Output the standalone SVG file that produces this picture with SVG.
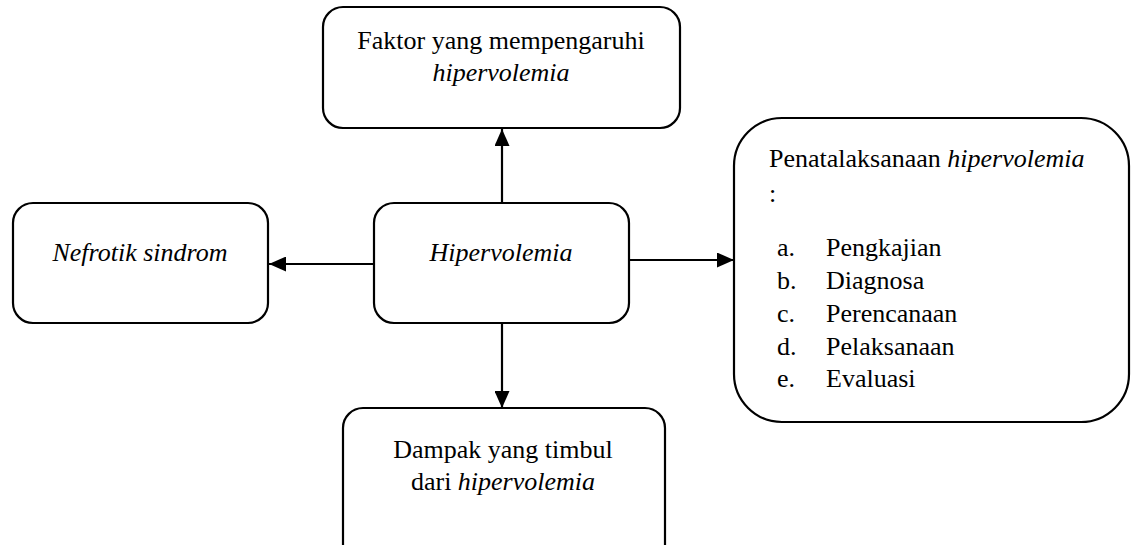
<svg xmlns="http://www.w3.org/2000/svg" width="1133" height="545" viewBox="0 0 1133 545">
<style>
.box{fill:#fff;stroke:#000;stroke-width:2.2}
.t{font-size:26px;fill:#000}
.i{font-style:italic}
.c{stroke:#000;stroke-width:2.2;fill:none}
</style>
<defs>
<marker id="ah" markerUnits="userSpaceOnUse" markerWidth="17" markerHeight="15" refX="17" refY="7.5" orient="auto">
<path d="M0,0 L17,7.5 L0,15 z" fill="#000"/>
</marker>
</defs>
<rect width="1133" height="545" fill="#fff"/>
<g id="connectors">
<line class="c" x1="502" y1="203" x2="502" y2="129" marker-end="url(#ah)"/>
<line class="c" x1="374" y1="264" x2="269" y2="264" marker-end="url(#ah)"/>
<line class="c" x1="629" y1="260" x2="734" y2="260" marker-end="url(#ah)"/>
<line class="c" x1="502" y1="323" x2="502" y2="408" marker-end="url(#ah)"/>
</g>
<g font-family="Liberation Serif, Tinos, Times New Roman, serif">
<g id="node-faktor">
<rect class="box" x="323" y="7" width="357" height="121" rx="20"/>
<text class="t" x="501" y="49" text-anchor="middle">Faktor yang mempengaruhi</text>
<text class="t i" x="501" y="81" text-anchor="middle">hipervolemia</text>
</g>
<g id="node-nefrotik">
<rect class="box" x="13" y="203" width="255" height="120" rx="20"/>
<text class="t i" x="140" y="261" text-anchor="middle">Nefrotik sindrom</text>
</g>
<g id="node-hipervolemia">
<rect class="box" x="374" y="203" width="255" height="120" rx="20"/>
<text class="t i" x="501" y="261" text-anchor="middle">Hipervolemia</text>
</g>
<g id="node-penatalaksanaan">
<rect class="box" x="734" y="118" width="395" height="304" rx="48"/>
<text class="t" x="769" y="167">Penatalaksanaan <tspan class="i">hipervolemia</tspan></text>
<text class="t" x="769" y="202">:</text>
<text class="t" x="777" y="256">a.</text><text class="t" x="826" y="256">Pengkajian</text>
<text class="t" x="777" y="289">b.</text><text class="t" x="826" y="289">Diagnosa</text>
<text class="t" x="777" y="322">c.</text><text class="t" x="826" y="322">Perencanaan</text>
<text class="t" x="777" y="355">d.</text><text class="t" x="826" y="355">Pelaksanaan</text>
<text class="t" x="777" y="387">e.</text><text class="t" x="826" y="387">Evaluasi</text>
</g>
<g id="node-dampak">
<rect class="box" x="343" y="408" width="322" height="160" rx="20"/>
<text class="t" x="503" y="458" text-anchor="middle">Dampak yang timbul</text>
<text class="t" x="503" y="490" text-anchor="middle">dari <tspan class="i">hipervolemia</tspan></text>
</g>
</g>
</svg>
